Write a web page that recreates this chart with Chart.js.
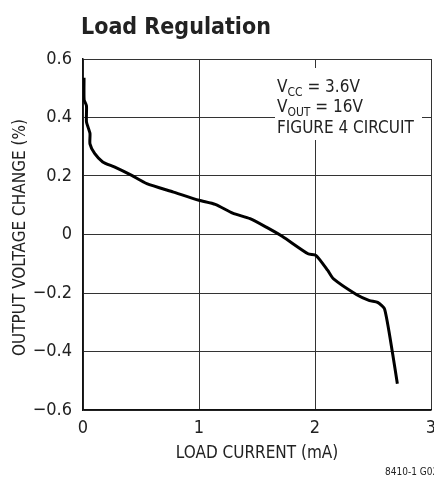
<!DOCTYPE html>
<html>
<head>
<meta charset="utf-8">
<script src="https://cdn.jsdelivr.net/npm/chart.js@4"></script>
<style>
  html, body { margin: 0; padding: 0; overflow: hidden; background: #fff; }
  #wrap { width: 450px; height: 477px; }
</style>
</head>
<body>
<div id="wrap"><canvas id="regChart" width="450" height="477"></canvas></div>
<script>
// Dữ liệu: dòng tải (mA) và thay đổi điện áp ra (%)
const loadCurrent = [0.009, 0.01, 0.03, 0.03, 0.06, 0.06, 0.10, 0.17, 0.27, 0.42, 0.55, 0.78, 1.00, 1.14, 1.29, 1.44, 1.58, 1.72, 1.94, 2.01, 2.11, 2.16, 2.36, 2.47, 2.54, 2.60, 2.67, 2.71];
const voltageChange = [0.536, 0.46, 0.44, 0.385, 0.346, 0.31, 0.277, 0.248, 0.231, 0.202, 0.174, 0.145, 0.117, 0.103, 0.073, 0.054, 0.025, -0.007, -0.066, -0.072, -0.123, -0.152, -0.206, -0.226, -0.232, -0.255, -0.409, -0.51];
const xTicks = [0, 1, 2, 3];
const yTicks = [0.6, 0.4, 0.2, 0, -0.2, -0.4, -0.6];

const FONT = '"Liberation Sans Narrow", "DejaVu Sans Condensed", "Liberation Sans", sans-serif';

const points = loadCurrent.map((x, i) => ({ x: x, y: voltageChange[i] }));

// Vẽ tiêu đề, nhãn trục, chú thích
const extras = {
    id: 'extras',
    afterDraw(chart) {
        const c = chart.ctx;
        const a = chart.chartArea;
        c.save();
        c.fillStyle = '#222';

        // tiêu đề
        c.font = 'bold 23px ' + FONT;
        c.textAlign = 'left';
        c.textBaseline = 'alphabetic';
        c.fillText('Load Regulation', a.left - 2, 34);

        // nhãn trục x
        c.font = '17px ' + FONT;
        c.textAlign = 'center';
        c.textBaseline = 'middle';
        c.fillText('LOAD CURRENT (mA)', (a.left + a.right) / 2, 454);

        // nhãn trục y
        c.save();
        c.translate(21, (a.top + a.bottom) / 2 + 3);
        c.rotate(-Math.PI / 2);
        c.fillText('OUTPUT VOLTAGE CHANGE (%)', 0, 0);
        c.restore();

        // mã hình
        c.font = '10px ' + FONT;
        c.textAlign = 'left';
        c.fillText('8410-1 G02', 385, 472);

        // hộp chú thích
        c.fillStyle = '#fff';
        c.fillRect(a.left + 192, a.top + 9, 147, 72);
        c.fillStyle = '#222';
        c.textBaseline = 'alphabetic';
        const x0 = a.left + 194;
        const sub = (y, main, subTxt, rest) => {
            let x = x0;
            c.font = '17px ' + FONT;
            c.fillText(main, x, y);
            x += c.measureText(main).width;
            c.font = '12px ' + FONT;
            c.fillText(subTxt, x, y + 4);
            x += c.measureText(subTxt).width;
            c.font = '17px ' + FONT;
            c.fillText(rest, x, y);
        };
        sub(a.top + 33, 'V', 'CC', ' = 3.6V');
        sub(a.top + 53, 'V', 'OUT', ' = 16V');
        c.font = '17px ' + FONT;
        c.fillText('FIGURE 4 CIRCUIT', x0, a.top + 74);
        c.restore();
    }
};

const ctx = document.getElementById('regChart').getContext('2d');
const regChart = new Chart(ctx, {
    type: 'scatter',
    data: {
        datasets: [{
            data: points,
            showLine: true,
            borderColor: '#000',
            borderWidth: 3,
            pointRadius: 0,
            tension: 0.2,
            fill: false
        }]
    },
    options: {
        responsive: false,
        animation: false,
        layout: { padding: { top: 59, right: 19, left: 0, bottom: 0 } },
        plugins: {
            legend: { display: false },
            tooltip: { enabled: false }
        },
        scales: {
            x: {
                type: 'linear',
                min: 0,
                max: 3,
                afterFit: (s) => { s.height = 67; },
                afterBuildTicks: (s) => { s.ticks = xTicks.map(v => ({ value: v })); },
                grid: { color: '#333', lineWidth: 1, drawTicks: false },
                border: { color: '#111', width: 1.5 },
                ticks: {
                    color: '#222',
                    padding: 8,
                    font: { family: FONT, size: 18 },
                    maxRotation: 0,
                    callback: (v) => String(v)
                }
            },
            y: {
                min: -0.6,
                max: 0.6,
                afterFit: (s) => { s.width = 83; },
                afterBuildTicks: (s) => { s.ticks = yTicks.map(v => ({ value: v })); },
                grid: { color: '#333', lineWidth: 1, drawTicks: false },
                border: { color: '#111', width: 1.5 },
                ticks: {
                    color: '#222',
                    padding: 11,
                    font: { family: FONT, size: 18 },
                    callback: (v) => {
                        const r = Math.round(v * 10) / 10;
                        if (r === 0) return '0';
                        return (r < 0 ? '\u2212' : '') + Math.abs(r).toFixed(1);
                    }
                }
            }
        }
    },
    plugins: [extras]
});
</script>
</body>
</html>
